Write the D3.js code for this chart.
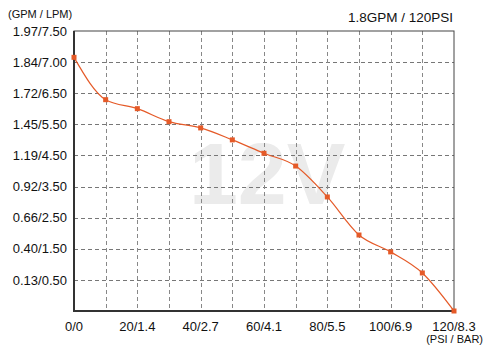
<!DOCTYPE html>
<html>
<head>
<meta charset="utf-8">
<script src="https://cdn.jsdelivr.net/npm/d3@7"></script>
<style>
  body { margin: 0; background: #fff; }
  text { font-family: "Liberation Sans", Arial, sans-serif; fill: #111; }
</style>
</head>
<body>
<div id="chart"></div>
<script>
// Data
const psi = [0, 10, 20, 30, 40, 50, 60, 70, 80, 90, 100, 110, 120];
const gpm = [1.86, 1.664, 1.586, 1.473, 1.42, 1.32, 1.208, 1.098, 0.833, 0.515, 0.373, 0.19, 0];

// Axis tick labels (y gridlines are evenly spaced, values are not)
const yTickVals = [0, 0.13, 0.40, 0.66, 0.92, 1.19, 1.45, 1.72, 1.84, 1.97];
const yTickLabels = ["", "0.13/0.50", "0.40/1.50", "0.66/2.50", "0.92/3.50", "1.19/4.50", "1.45/5.50", "1.72/6.50", "1.84/7.00", "1.97/7.50"];
const xTickVals = [0, 20, 40, 60, 80, 100, 120];
const xTickLabels = ["0/0", "20/1.4", "40/2.7", "60/4.1", "80/5.5", "100/6.9", "120/8.3"];
const xGridVals = d3.range(0, 121, 10);

const margin = { top: 31, right: 36, bottom: 40, left: 74 };
const width = 490 - margin.left - margin.right;
const height = 351 - margin.top - margin.bottom;

const svg = d3.select("#chart")
    .append("svg")
    .attr("width", 490)
    .attr("height", 351);

const g = svg.append("g")
    .attr("transform", `translate(${margin.left},${margin.top})`);

const x = d3.scaleLinear().domain([0, 120]).range([0, width]);
// piecewise scale so each labelled value sits on an evenly spaced gridline
const y = d3.scaleLinear()
    .domain(yTickVals)
    .range(yTickVals.map((d, i) => height - i * height / (yTickVals.length - 1)));

// Watermark
g.append("text")
    .attr("x", x(61))
    .attr("y", 173)
    .attr("text-anchor", "middle")
    .style("font-size", "88px")
    .style("font-weight", "bold")
    .style("fill", "#ebebeb")
    .text("12V");

// Grid
g.selectAll(".hgrid")
    .data(yTickVals.slice(1, -1))
    .join("line")
    .attr("x1", 0).attr("x2", width)
    .attr("y1", d => Math.round(y(d)) + 0.5).attr("y2", d => Math.round(y(d)) + 0.5)
    .attr("stroke", "#777")
    .attr("stroke-dasharray", "4,3");

g.selectAll(".vgrid")
    .data(xGridVals.slice(1, -1))
    .join("line")
    .attr("x1", d => Math.round(x(d)) + 0.5).attr("x2", d => Math.round(x(d)) + 0.5)
    .attr("y1", 0).attr("y2", height)
    .attr("stroke", "#888")
    .attr("stroke-dasharray", "4,3");

// Frame
g.append("rect")
    .attr("x", 0).attr("y", 0)
    .attr("width", width).attr("height", height)
    .attr("fill", "none")
    .attr("stroke", "#444")
    .attr("stroke-width", 1);

g.append("path")
    .attr("d", `M0,0V${height}H${width}`)
    .attr("fill", "none")
    .attr("stroke", "#333")
    .attr("stroke-width", 2);

// Y labels
g.selectAll(".ylab")
    .data(yTickVals)
    .join("text")
    .attr("x", -7)
    .attr("y", d => y(d))
    .attr("dy", "0.36em")
    .attr("text-anchor", "end")
    .style("font-size", "13px")
    .text((d, i) => yTickLabels[i]);

// X labels
g.selectAll(".xlab")
    .data(xTickVals)
    .join("text")
    .attr("x", d => x(d))
    .attr("y", height + 20)
    .attr("text-anchor", "middle")
    .style("font-size", "13px")
    .text((d, i) => xTickLabels[i]);

// Units and title
svg.append("text")
    .attr("x", 8).attr("y", 18)
    .style("font-size", "11px")
    .text("(GPM / LPM)");

svg.append("text")
    .attr("x", 483).attr("y", 343)
    .attr("text-anchor", "end")
    .style("font-size", "11px")
    .text("(PSI / BAR)");

svg.append("text")
    .attr("x", margin.left + width - 1).attr("y", 22)
    .attr("text-anchor", "end")
    .style("font-size", "13.5px")
    .text("1.8GPM / 120PSI");

// Curve
const points = psi.map((p, i) => ({ psi: p, gpm: gpm[i] }));
const color = "#e55a28";

g.append("path")
    .datum(points)
    .attr("fill", "none")
    .attr("stroke", color)
    .attr("stroke-width", 1.2)
    .attr("d", d3.line()
        .x(d => x(d.psi))
        .y(d => y(d.gpm))
        .curve(d3.curveMonotoneX));

g.selectAll(".pt")
    .data(points)
    .join("rect")
    .attr("x", d => x(d.psi) - 2.5)
    .attr("y", d => y(d.gpm) - 2.5)
    .attr("width", 5)
    .attr("height", 5)
    .attr("fill", color);
</script>
</body>
</html>
